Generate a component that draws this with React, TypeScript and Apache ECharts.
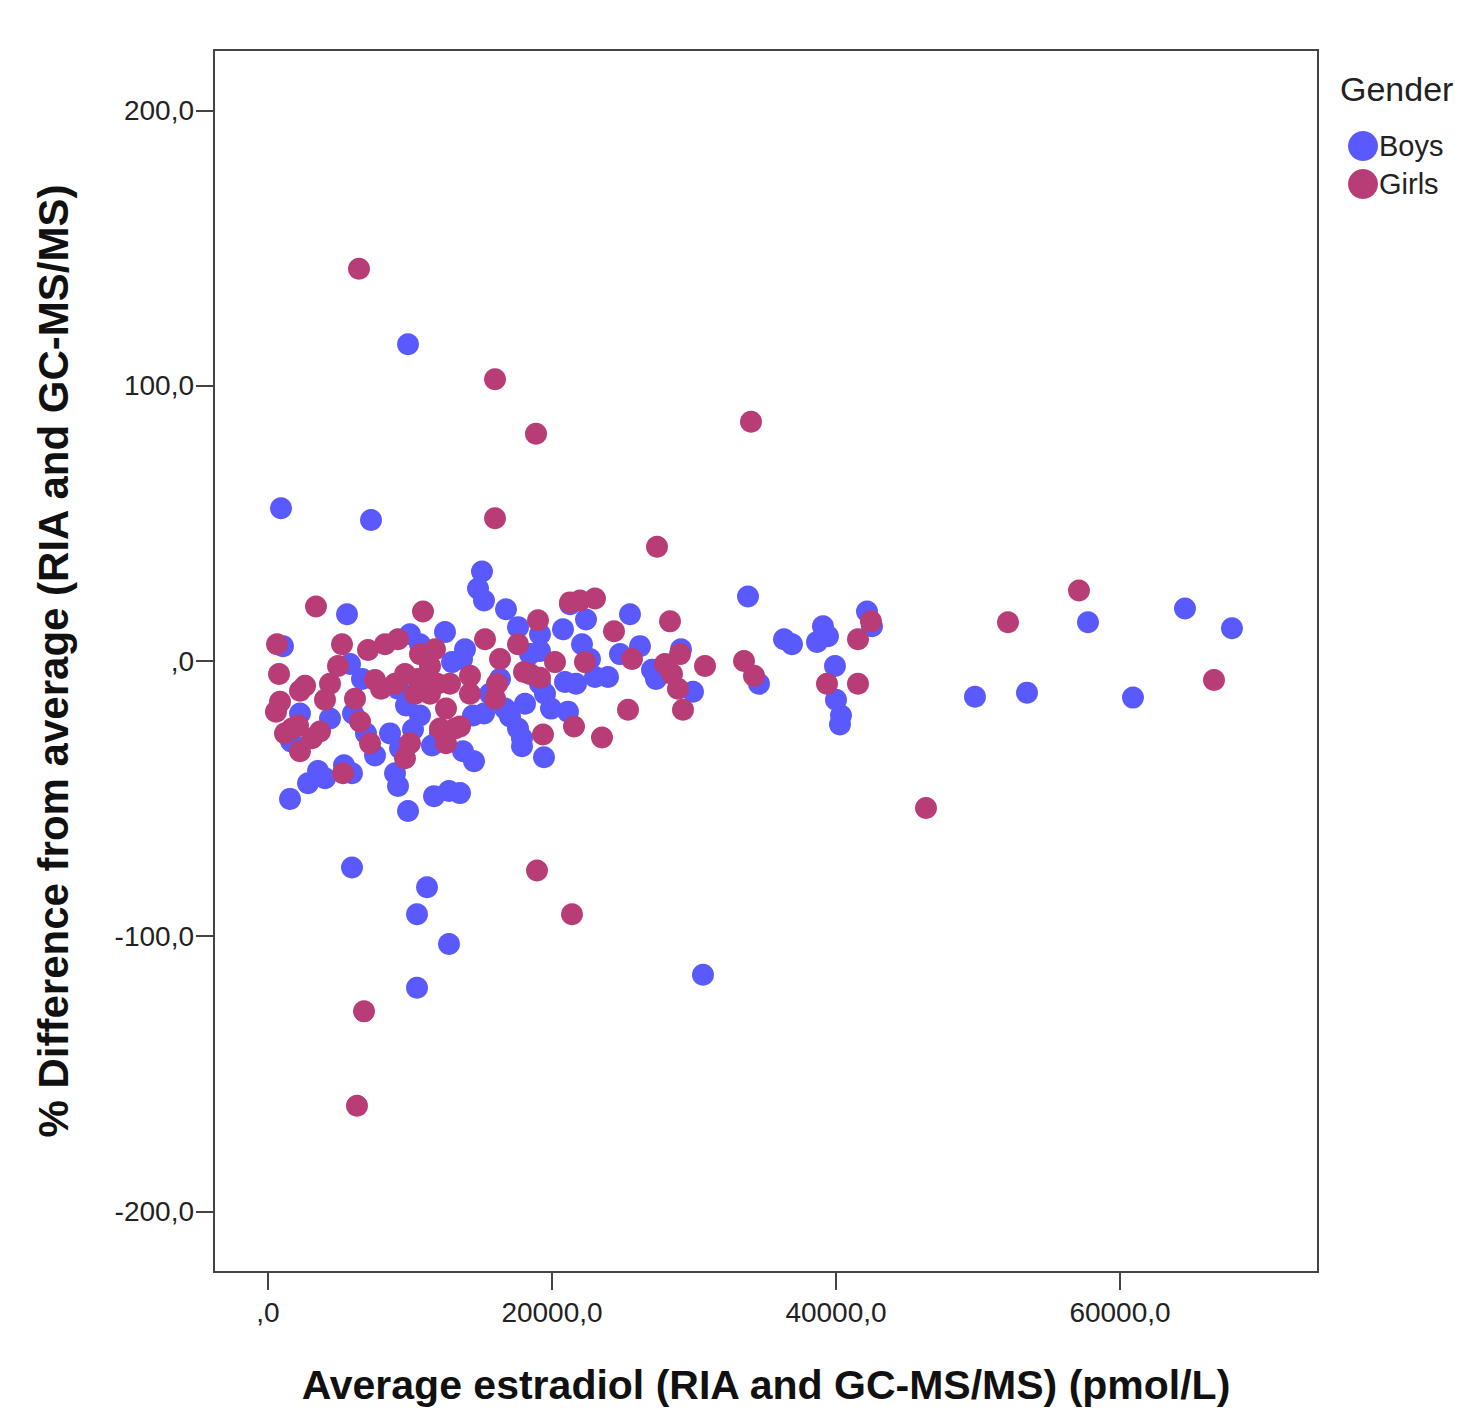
import React, { useEffect, useRef } from "react";
import * as echarts from "echarts";

const xTicks = [0, 20000, 40000, 60000];
const yTicks = [-200, -100, 0, 100, 200];
const xTickLabels = [",0", "20000,0", "40000,0", "60000,0"];
const yTickLabels = ["-200,0", "-100,0", ",0", "100,0", "200,0"];
const legendTitle = "Gender";
const seriesNames = ["Boys", "Girls"];

const boys: [number, number][] = [
  [915, 55.5], [7253, 51.2], [9859, 115.1], [15070, 32.5], [14789, 26.3], [15211, 22.0],
  [16760, 18.8], [17605, 12.3], [5563, 17.0], [1056, 5.4], [33802, 23.4], [25492, 17.0],
  [21267, 20.6], [22394, 15.1], [42181, 18.0], [42533, 12.6], [39082, 12.6], [39434, 9.0],
  [36336, 7.9], [36899, 6.1], [38660, 6.9], [57744, 14.1], [64575, 19.1], [67885, 11.9],
  [49787, -13.0], [53449, -11.5], [60913, -13.3], [39927, -1.8], [39998, -14.1], [40350, -19.8],
  [40279, -23.1], [34576, -8.3], [29928, -11.2], [29083, 4.3], [27323, -6.5], [27041, -3.2],
  [26196, 5.4], [23943, -5.8], [23027, -5.8], [20915, -7.6], [21690, -8.3], [21126, -18.4],
  [19506, -11.9], [19929, -17.3], [19436, -35.0], [17887, -28.1], [17887, -31.0], [17605, -24.5],
  [17042, -20.2], [18098, -15.5], [18450, 2.5], [19154, 3.6], [20774, 11.5], [19154, 9.7],
  [15211, -19.1], [14507, -36.4], [13521, -48.0], [12746, -47.2], [11690, -49.1], [9859, -54.5],
  [9155, -45.4], [8944, -40.8], [8592, -26.3], [9296, -31.7], [7535, -34.3], [6901, -26.3],
  [5915, -40.8], [5352, -37.9], [3521, -40.0], [2817, -44.4], [4014, -42.6], [1549, -50.1],
  [1620, -29.2], [5915, -75.0], [11197, -82.2], [10493, -92.0], [12746, -102.8], [10493, -118.7],
  [30633, -114.0], [12464, 10.5], [10000, 9.7], [10704, 6.1], [13873, 4.3], [13662, 0.7],
  [12958, -0.4], [9155, -10.1], [9718, -16.2], [10704, -19.8], [10211, -24.9], [12112, -26.3],
  [13732, -32.8], [11549, -30.7], [5774, -1.1], [6619, -6.5], [5986, -19.1], [4366, -20.9],
  [2253, -19.1], [15634, -11.9], [16338, -6.5], [22112, 6.1], [24788, 2.5], [22675, 0.7],
  [16690, -17.3], [19154, -8.3], [14436, -19.8],
];

const girls: [number, number][] = [
  [6408, 142.5], [15986, 102.4], [18873, 82.6], [34013, 86.9], [15986, 51.9], [27394, 41.5],
  [3380, 19.8], [10915, 18.0], [19014, 14.8], [21267, 21.3], [21972, 22.0], [23027, 22.7],
  [28309, 14.4], [24365, 10.8], [57111, 25.6], [52111, 14.1], [42462, 14.4], [41547, 7.9],
  [634, 6.1], [5211, 6.1], [7042, 4.0], [8239, 6.1], [9155, 7.9], [10704, 2.5],
  [11760, 4.3], [15282, 7.9], [16338, 0.7], [17605, 6.1], [20211, -0.4], [22323, -0.4],
  [25633, 0.7], [27957, -1.1], [29013, 2.5], [30774, -1.8], [33520, 0.0], [34224, -5.4],
  [28450, -4.7], [28872, -10.1], [29224, -17.7], [25351, -17.7], [23520, -27.8], [21549, -23.8],
  [19365, -26.7], [18450, -4.7], [19154, -6.1], [18028, -4.0], [16127, -8.3], [15986, -13.7],
  [14225, -5.4], [12816, -8.3], [11901, -8.3], [11408, -1.8], [10563, -6.5], [9648, -4.7],
  [8944, -8.3], [7958, -10.1], [7535, -6.9], [6126, -13.7], [4930, -1.8], [4366, -8.3],
  [4014, -14.1], [2606, -9.0], [2253, -10.8], [775, -4.7], [845, -14.8], [563, -18.4],
  [1690, -24.5], [2113, -23.4], [2253, -32.8], [3098, -28.1], [3662, -25.6], [6479, -22.0],
  [7183, -29.9], [5282, -40.8], [9999, -29.9], [9648, -35.3], [12535, -29.9], [12112, -24.5],
  [13521, -23.8], [12535, -17.3], [46337, -53.4], [18943, -76.1], [21408, -92.0], [6760, -127.3],
  [6267, -161.6], [39364, -8.3], [41547, -8.3], [66618, -6.9], [13169, -24.5], [11408, -11.9],
  [10352, -11.9], [14225, -11.9], [1197, -26.3],
];

const BOY_COLOR = "#5959fd";
const GIRL_COLOR = "#b83c76";
const FONT = "'Liberation Sans', Arial, sans-serif";

export default function App() {
  const ref = useRef<HTMLDivElement>(null);
  useEffect(() => {
    if (!ref.current) return;
    document.body.style.margin = "0";
    document.body.style.overflow = "hidden";
    const chart = echarts.init(ref.current, undefined, { renderer: "svg" });
    const fmtX = (v: number) => {
      const i = xTicks.indexOf(v);
      return i >= 0 ? xTickLabels[i] : "";
    };
    const fmtY = (v: number) => {
      const i = yTicks.indexOf(v);
      return i >= 0 ? yTickLabels[i] : "";
    };
    chart.setOption({
      animation: false,
      backgroundColor: "#ffffff",
      grid: {
        left: 214,
        right: 141,
        top: 50,
        bottom: 130,
        show: true,
        borderColor: "#444444",
        borderWidth: 2,
        backgroundColor: "#ffffff",
      },
      legend: {
        orient: "vertical",
        left: 1343,
        top: 126,
        icon: "circle",
        itemWidth: 30,
        itemHeight: 30,
        itemGap: 8,
        data: seriesNames,
        textStyle: { fontFamily: FONT, fontSize: 29, color: "#222222", padding: [0, 0, 0, -4] },
      },
      graphic: [
        {
          type: "text",
          left: 1340,
          top: 72,
          style: { text: legendTitle, fontFamily: FONT, fontSize: 34, fill: "#222222" },
        },
      ],
      xAxis: {
        type: "value",
        min: -3803,
        max: 73943,
        name: "Average estradiol (RIA and GC-MS/MS) (pmol/L)",
        nameLocation: "middle",
        nameGap: 92,
        nameTextStyle: { fontFamily: FONT, fontSize: 41, fontWeight: "bold", color: "#111111" },
        splitLine: { show: false },
        axisLine: { show: false, onZero: false },
        axisTick: {
          show: true,
          length: 18,
          lineStyle: { color: "#444444", width: 2 },
          customValues: xTicks,
        },
        axisLabel: {
          fontFamily: FONT,
          fontSize: 28,
          color: "#222222",
          margin: 26,
          customValues: xTicks,
          formatter: fmtX,
        },
      },
      yAxis: {
        type: "value",
        min: -222,
        max: 222,
        name: "% Difference from average (RIA and GC-MS/MS)",
        nameLocation: "middle",
        nameRotate: 90,
        nameGap: 140,
        nameTextStyle: { fontFamily: FONT, fontSize: 42, fontWeight: "bold", color: "#111111" },
        splitLine: { show: false },
        axisLine: { show: false, onZero: false },
        axisTick: {
          show: true,
          length: 18,
          lineStyle: { color: "#444444", width: 2 },
          customValues: yTicks,
        },
        axisLabel: {
          fontFamily: FONT,
          fontSize: 28,
          color: "#222222",
          margin: 20,
          customValues: yTicks,
          formatter: fmtY,
        },
      },
      series: [
        {
          name: seriesNames[0],
          type: "scatter",
          data: boys,
          symbol: "circle",
          symbolSize: 22,
          itemStyle: { color: BOY_COLOR, opacity: 1 },
        },
        {
          name: seriesNames[1],
          type: "scatter",
          data: girls,
          symbol: "circle",
          symbolSize: 22,
          itemStyle: { color: GIRL_COLOR, opacity: 1 },
        },
      ],
    });
    return () => chart.dispose();
  }, []);
  return (
    <div
      ref={ref}
      style={{ position: "absolute", left: 0, top: 0, width: 1459, height: 1410 }}
    />
  );
}
